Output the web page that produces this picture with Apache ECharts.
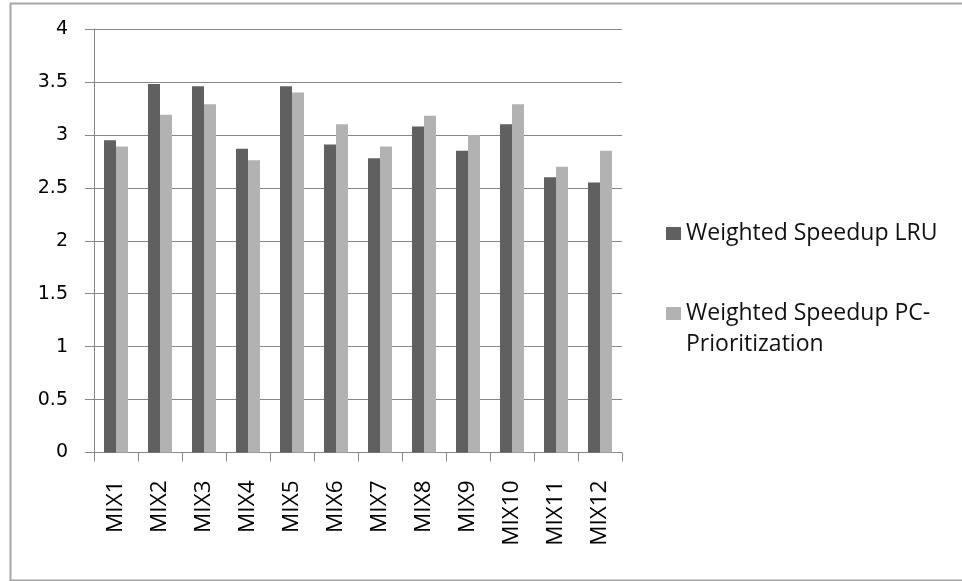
<!DOCTYPE html>
<html>
<head>
<meta charset="utf-8">
<script src="https://cdn.jsdelivr.net/npm/echarts@6/dist/echarts.min.js"></script>
<style>
html,body{margin:0;padding:0;background:#fff;}
#chart{width:962px;height:581px;}
</style>
</head>
<body>
<div id="chart"></div>
<script>
const categories = ['MIX1','MIX2','MIX3','MIX4','MIX5','MIX6','MIX7','MIX8','MIX9','MIX10','MIX11','MIX12'];
const seriesNames = ['Weighted Speedup LRU', 'Weighted Speedup PC-Prioritization'];
const lruValues = [2.95, 3.48, 3.46, 2.87, 3.46, 2.91, 2.78, 3.08, 2.85, 3.10, 2.60, 2.55];
const pcValues  = [2.89, 3.19, 3.29, 2.76, 3.40, 3.10, 2.89, 3.18, 3.00, 3.29, 2.70, 2.85];
const yTicks = [0, 0.5, 1, 1.5, 2, 2.5, 3, 3.5, 4];

const chart = echarts.init(document.getElementById('chart'));
const gridColor = '#878787';
chart.setOption({
  animation: false,
  backgroundColor: '#fff',
  graphic: [{
    type: 'rect', left: 8, top: 1, silent: true,
    shape: {width: 980, height: 577},
    style: {fill: 'none', stroke: '#a6a6a6', lineWidth: 2}
  }],
  grid: {left: 94, right: 340, top: 29, bottom: 128.5, containLabel: false},
  legend: {
    orient: 'vertical',
    left: 661, top: 213,
    itemWidth: 15, itemHeight: 13, itemGap: 18,
    icon: 'rect',
    textStyle: {fontFamily: 'Open Sans', fontSize: 23, color: '#111', lineHeight: 31},
    data: [seriesNames[0], seriesNames[1]],
    formatter: function (n) { return n === seriesNames[1] ? ' \nWeighted Speedup PC-\nPrioritization' : n; }
  },
  xAxis: {
    type: 'category',
    data: categories,
    axisLine: {lineStyle: {color: gridColor, width: 1}},
    axisTick: {show: true, length: 9, lineStyle: {color: gridColor}},
    axisLabel: {rotate: 90, margin: 28, fontFamily: 'Open Sans', fontSize: 22.5, color: '#000', interval: 0}
  },
  yAxis: {
    type: 'value', min: 0, max: 4, interval: 0.5,
    axisLine: {show: true, lineStyle: {color: gridColor, width: 1}},
    axisTick: {show: true, length: 9, lineStyle: {color: gridColor}},
    splitLine: {show: true, lineStyle: {color: gridColor, width: 1}},
    axisLabel: {margin: 26, fontFamily: 'DejaVu Sans', fontSize: 19, color: '#000',
      formatter: function (v) { return yTicks.indexOf(v) >= 0 ? String(v) : ''; }}
  },
  series: [
    {name: seriesNames[0], type: 'bar', data: lruValues, barWidth: 12, barGap: '0%', itemStyle: {color: '#606060'}},
    {name: seriesNames[1], type: 'bar', data: pcValues, barWidth: 12, barGap: '0%', itemStyle: {color: '#b2b2b2'}}
  ]
});
</script>
</body>
</html>
